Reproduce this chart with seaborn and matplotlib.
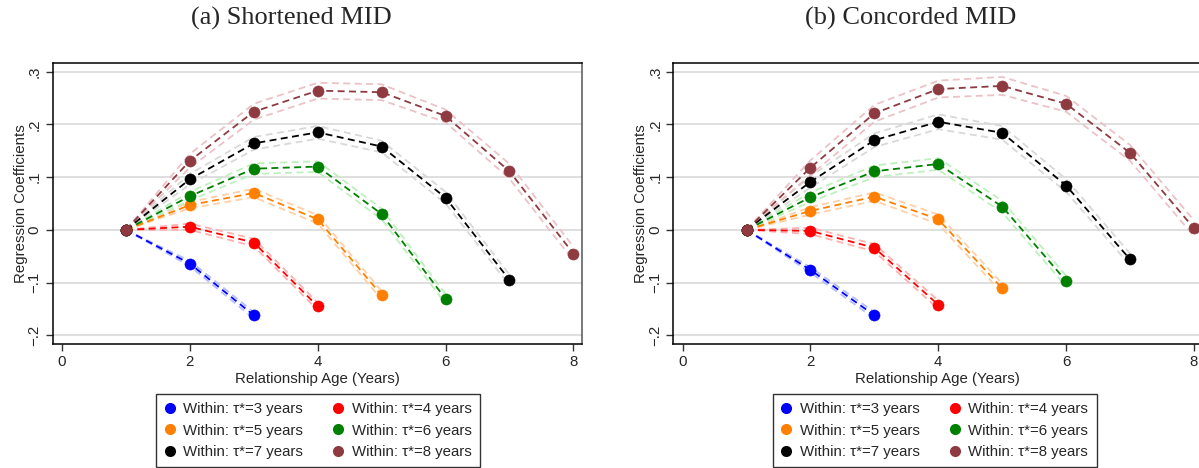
import matplotlib
matplotlib.use("Agg")
import matplotlib.pyplot as plt
from matplotlib.lines import Line2D
import seaborn as sns
import numpy as np

# ---------------- data ----------------
taus = [3, 4, 5, 6, 7, 8]
legend_labels = ["Within: \u03c4*=3 years", "Within: \u03c4*=4 years",
                 "Within: \u03c4*=5 years", "Within: \u03c4*=6 years",
                 "Within: \u03c4*=7 years", "Within: \u03c4*=8 years"]
titles = ["(a) Shortened MID", "(b) Concorded MID"]
xticks = [0, 2, 4, 6, 8]
yticks = [-0.2, -0.1, 0.0, 0.1, 0.2, 0.3]
ytick_labels = ["\u2212.2", "\u2212.1", "0", ".1", ".2", ".3"]

# Panel (a): coefficients for relationship ages 1..tau
a_tau3 = [0, -0.064, -0.162]
a_tau4 = [0, 0.006, -0.024, -0.145]
a_tau5 = [0, 0.047, 0.070, 0.020, -0.124]
a_tau6 = [0, 0.064, 0.116, 0.120, 0.030, -0.131]
a_tau7 = [0, 0.096, 0.164, 0.185, 0.158, 0.061, -0.095]
a_tau8 = [0, 0.131, 0.224, 0.264, 0.261, 0.216, 0.111, -0.045]
# Panel (a): confidence half-widths
a_ci3 = [0, 0.005, 0.006]
a_ci4 = [0, 0.006, 0.007, 0.007]
a_ci5 = [0, 0.006, 0.008, 0.008, 0.008]
a_ci6 = [0, 0.008, 0.010, 0.010, 0.010, 0.009]
a_ci7 = [0, 0.010, 0.012, 0.012, 0.011, 0.011, 0.010]
a_ci8 = [0, 0.013, 0.015, 0.015, 0.015, 0.012, 0.014, 0.013]

# Panel (b)
b_tau3 = [0, -0.076, -0.162]
b_tau4 = [0, -0.002, -0.034, -0.142]
b_tau5 = [0, 0.036, 0.063, 0.020, -0.111]
b_tau6 = [0, 0.062, 0.111, 0.125, 0.044, -0.097]
b_tau7 = [0, 0.091, 0.170, 0.205, 0.184, 0.084, -0.056]
b_tau8 = [0, 0.118, 0.221, 0.267, 0.273, 0.239, 0.146, 0.003]
b_ci3 = [0, 0.005, 0.006]
b_ci4 = [0, 0.006, 0.007, 0.008]
b_ci5 = [0, 0.007, 0.008, 0.009, 0.009]
b_ci6 = [0, 0.009, 0.011, 0.011, 0.011, 0.010]
b_ci7 = [0, 0.011, 0.013, 0.014, 0.013, 0.012, 0.011]
b_ci8 = [0, 0.014, 0.016, 0.016, 0.017, 0.015, 0.015, 0.015]

main_colors = ["#0000FF", "#FF0000", "#FF8000", "#008000", "#000000", "#8E3A40"]
light_colors = ["#B3BCFF", "#FFB0B0", "#FFD0A8", "#BDF0BD", "#D8D8D8", "#EBC2C6"]

panels = [
    ([a_tau3, a_tau4, a_tau5, a_tau6, a_tau7, a_tau8],
     [a_ci3, a_ci4, a_ci5, a_ci6, a_ci7, a_ci8]),
    ([b_tau3, b_tau4, b_tau5, b_tau6, b_tau7, b_tau8],
     [b_ci3, b_ci4, b_ci5, b_ci6, b_ci7, b_ci8]),
]

# ---------------- style ----------------
sns.set_theme(style="white")
plt.rcParams["font.family"] = ["Liberation Sans", "DejaVu Sans"]
plt.rcParams["lines.scale_dashes"] = False

W, H = 1199, 468
fig = plt.figure(figsize=(W / 100, H / 100), dpi=100)

ax_w = 529 / W
ax_h = (344.3 - 62.7) / H
ax_b = 1 - 344.3 / H
lefts = [52.7 / W, 673.3 / W]
title_x = [291 / W, 911 / W]
legend_cx = [0.5015, 0.494]

dash = (0, (5, 3.2))
fs = 10.8

for p, (coefs, cis) in enumerate(panels):
    ax = fig.add_axes([lefts[p], ax_b, ax_w, ax_h])
    ax.set_xlim(-0.146, 8.13)
    ax.set_ylim(-0.217, 0.317)

    for yv in yticks:
        ax.axhline(yv, color="#DCDCDC", lw=1.3, zorder=0)

    # confidence bands (dashed light lines)
    for i, tau in enumerate(taus):
        xs = np.arange(1, tau + 1)
        c = np.array(coefs[i])
        h = np.array(cis[i])
        for yy in (c + h, c - h):
            sns.lineplot(x=xs, y=yy, ax=ax, color=light_colors[i], lw=1.3,
                         linestyle=dash, zorder=2, legend=False)
    # point estimates
    for i, tau in enumerate(taus):
        xs = np.arange(1, tau + 1)
        sns.lineplot(x=xs, y=coefs[i], ax=ax, color=main_colors[i], lw=1.3,
                     linestyle=dash, marker="o", markersize=8,
                     markeredgecolor=main_colors[i], markeredgewidth=0.4,
                     zorder=3, legend=False)

    ax.set_xticks(xticks)
    ax.set_xticklabels([str(t) for t in xticks], fontsize=fs)
    ax.set_yticks(yticks)
    ax.set_yticklabels(ytick_labels, fontsize=fs, rotation=90, va="center")
    ax.tick_params(axis="both", which="both", direction="out", length=5,
                   width=1, color="#333333", pad=3, bottom=True, left=True)
    ax.set_xlabel("Relationship Age (Years)", fontsize=fs, labelpad=2)
    ax.set_ylabel("Regression Coefficients", fontsize=fs, labelpad=0)
    for s in ax.spines.values():
        s.set_visible(True)
        s.set_color("#000000")
        s.set_linewidth(1.1)
    ax.spines["right"].set_color("#555555")
    ax.grid(False)

    handles = [Line2D([], [], linestyle="none", marker="o", markersize=8,
                      color=main_colors[i], markeredgewidth=0)
               for i in range(len(taus))]
    order = [0, 2, 4, 1, 3, 5]
    leg = ax.legend([handles[k] for k in order], [legend_labels[k] for k in order],
                    ncol=2, loc="upper center",
                    bbox_to_anchor=(legend_cx[p], -0.176), borderaxespad=0,
                    fontsize=fs, frameon=True, fancybox=False,
                    edgecolor="#000000", handlelength=0.7, handletextpad=0.55,
                    columnspacing=2.0, labelspacing=0.5, borderpad=0.55)
    leg.get_frame().set_linewidth(1.0)

    fig.text(title_x[p], 1 - 18 / H, titles[p], ha="center", va="center",
             fontsize=19, family=["Liberation Serif", "DejaVu Serif"])

fig.savefig("out.png", dpi=100)
